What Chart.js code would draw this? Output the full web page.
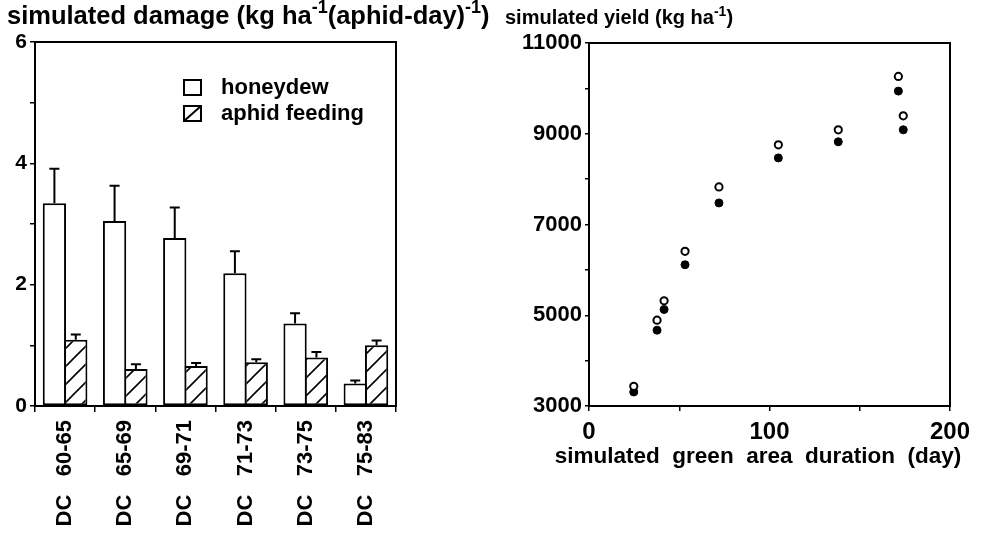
<!DOCTYPE html>
<html>
<head>
<meta charset="utf-8">
<script src="https://cdn.jsdelivr.net/npm/chart.js@4/dist/chart.umd.min.js"></script>
<style>
  html, body { margin: 0; padding: 0; background: #fff; }
  #wrap { position: relative; width: 985px; height: 533px; overflow: hidden; }
  canvas { position: absolute; top: 0; }
  #damage { left: 0; }
  #yield { left: 480px; }
</style>
</head>
<body>
<div id="wrap">
  <canvas id="damage" width="500" height="533"></canvas>
  <canvas id="yield" width="505" height="533"></canvas>
</div>
<script>
// left panel: simulated damage per development stage
const categories = ['DC 60-65', 'DC 65-69', 'DC 69-71', 'DC 71-73', 'DC 73-75', 'DC 75-83'];
const honeydew = [3.34, 3.05, 2.77, 2.19, 1.36, 0.37];
const honeydewErr = [0.57, 0.58, 0.50, 0.36, 0.17, 0.05];
const feeding = [1.09, 0.61, 0.66, 0.72, 0.80, 1.00];
const feedingErr = [0.09, 0.08, 0.05, 0.05, 0.09, 0.08];

// right panel: simulated yield vs green area duration
const gadDays = [24.8, 37.7, 41.6, 53.2, 72.0, 104.9, 138.1, 171.4, 174.1];
const yieldOpen = [3434, 4891, 5318, 6408, 7828, 8755, 9087, 10264, 9396];
const yieldFilled = [3309, 4671, 5127, 6113, 7475, 8468, 8822, 9940, 9087];

const FONT = "'Liberation Sans', Arial, Helvetica, sans-serif";
Chart.defaults.font.family = FONT;
Chart.defaults.font.weight = 'bold';
Chart.defaults.font.size = 21;
Chart.defaults.color = '#000';

// diagonal hatch for the aphid feeding bars
function makeHatch() {
    const s = 18;
    const c = document.createElement('canvas');
    c.width = s; c.height = s;
    const g = c.getContext('2d');
    g.fillStyle = '#fff';
    g.fillRect(0, 0, s, s);
    g.strokeStyle = '#000';
    g.lineWidth = 1.6;
    g.beginPath();
    g.moveTo(0, s); g.lineTo(s, 0);
    g.moveTo(-2, 2); g.lineTo(2, -2);
    g.moveTo(s - 2, s + 2); g.lineTo(s + 2, s - 2);
    g.stroke();
    return g.createPattern(c, 'repeat');
}
const hatch = makeHatch();

// text with superscripts, drawn on the canvas
function drawRich(ctx, x, y, parts, size, align) {
    ctx.save();
    ctx.fillStyle = '#000';
    ctx.textBaseline = 'alphabetic';
    ctx.textAlign = 'left';
    const fontFor = p => 'bold ' + (p.sup ? Math.round(size * 0.72) : size) + 'px ' + FONT;
    let total = 0;
    parts.forEach(p => {
        ctx.font = fontFor(p);
        total += ctx.measureText(p.t).width;
    });
    let cx = align === 'center' ? x - total / 2 : x;
    parts.forEach(p => {
        ctx.font = fontFor(p);
        ctx.fillText(p.t, cx, p.sup ? y - size * 0.42 : y);
        cx += ctx.measureText(p.t).width;
    });
    ctx.restore();
}

const textPlugin = {
    id: 'richText',
    afterDraw(chart, args, opts) {
        (opts.items || []).forEach(it => {
            drawRich(chart.ctx, it.x, it.y, it.parts, it.size || 21, it.align);
        });
    }
};

const boxPlugin = {
    id: 'frameBox',
    afterDatasetsDraw(chart) {
        const a = chart.chartArea;
        const ctx = chart.ctx;
        ctx.save();
        ctx.strokeStyle = '#000';
        ctx.lineWidth = 2;
        ctx.strokeRect(a.left, a.top, a.right - a.left, a.bottom - a.top);
        ctx.restore();
    }
};

const errorBarPlugin = {
    id: 'errorBars',
    afterDatasetsDraw(chart) {
        const ctx = chart.ctx;
        const yScale = chart.scales.y;
        ctx.save();
        ctx.strokeStyle = '#000';
        ctx.lineWidth = 2;
        chart.data.datasets.forEach((ds, i) => {
            const meta = chart.getDatasetMeta(i);
            meta.data.forEach((bar, j) => {
                const top = yScale.getPixelForValue(ds.data[j] + ds.errors[j]);
                ctx.beginPath();
                ctx.moveTo(bar.x, bar.y);
                ctx.lineTo(bar.x, top);
                ctx.moveTo(bar.x - 5, top);
                ctx.lineTo(bar.x + 5, top);
                ctx.stroke();
            });
        });
        ctx.restore();
    }
};

const legendPlugin = {
    id: 'boxLegend',
    afterDraw(chart, args, opts) {
        const ctx = chart.ctx;
        ctx.save();
        chart.data.datasets.forEach((ds, i) => {
            const bx = opts.x, by = opts.y + i * opts.gap;
            ctx.fillStyle = '#fff';
            ctx.fillRect(bx, by, 17, 15);
            ctx.strokeStyle = '#000';
            ctx.lineWidth = 2;
            ctx.strokeRect(bx, by, 17, 15);
            if (ds.hatched) {
                ctx.beginPath();
                ctx.moveTo(bx, by + 15);
                ctx.lineTo(bx + 17, by);
                ctx.stroke();
            }
            ctx.fillStyle = '#000';
            ctx.font = 'bold 22px ' + FONT;
            ctx.textBaseline = 'middle';
            ctx.fillText(ds.label, bx + 37, by + 8);
        });
        ctx.restore();
    }
};

new Chart(document.getElementById('damage'), {
    type: 'bar',
    data: {
        labels: categories,
        datasets: [
            {
                label: 'honeydew',
                data: honeydew,
                errors: honeydewErr,
                backgroundColor: '#fff',
                borderColor: '#000',
                borderWidth: 2,
                borderSkipped: false,
                categoryPercentage: 0.71,
                barPercentage: 1.09
            },
            {
                label: 'aphid feeding',
                data: feeding,
                errors: feedingErr,
                hatched: true,
                backgroundColor: hatch,
                borderColor: '#000',
                borderWidth: 2,
                borderSkipped: false,
                categoryPercentage: 0.71,
                barPercentage: 1.09
            }
        ]
    },
    options: {
        responsive: false,
        animation: false,
        layout: { padding: { left: 0, right: 104, top: 42, bottom: 0 } },
        scales: {
            x: {
                afterFit(scale) { scale.height = 127; },
                grid: { drawOnChartArea: false, tickLength: 6, color: '#000', lineWidth: 1.5, offset: true },
                border: { display: false },
                ticks: {
                    minRotation: 90,
                    maxRotation: 90,
                    padding: 8,
                    autoSkip: false,
                    font: { size: 22 },
                    callback: function(v) {
                        return this.getLabelForValue(v).replace(' ', '\u00a0\u00a0\u00a0');
                    }
                }
            },
            y: {
                min: 0,
                max: 6,
                afterFit(scale) { scale.width = 35; },
                grid: { drawOnChartArea: false, tickLength: 5, color: '#000', lineWidth: 1.5 },
                border: { display: false },
                ticks: {
                    stepSize: 1,
                    padding: 3,
                    callback: v => (v % 2 === 0 ? v : '')
                }
            }
        },
        plugins: {
            legend: { display: false },
            tooltip: { enabled: false },
            boxLegend: { x: 184, y: 80, gap: 26 },
            richText: {
                items: [{
                    x: 7, y: 24, size: 25.5,
                    parts: [
                        { t: 'simulated damage (kg ha' },
                        { t: '-1', sup: true },
                        { t: '(aphid-day)' },
                        { t: '-1', sup: true },
                        { t: ')' }
                    ]
                }]
            }
        }
    },
    plugins: [boxPlugin, errorBarPlugin, legendPlugin, textPlugin]
});

new Chart(document.getElementById('yield'), {
    type: 'scatter',
    data: {
        datasets: [
            {
                label: 'open',
                data: gadDays.map((d, i) => ({ x: d, y: yieldOpen[i] })),
                pointRadius: 3.6,
                pointBackgroundColor: '#fff',
                pointBorderColor: '#000',
                pointBorderWidth: 2
            },
            {
                label: 'filled',
                data: gadDays.map((d, i) => ({ x: d, y: yieldFilled[i] })),
                pointRadius: 4,
                pointBackgroundColor: '#000',
                pointBorderColor: '#000',
                pointBorderWidth: 1
            }
        ]
    },
    options: {
        responsive: false,
        animation: false,
        layout: { padding: { left: 0, right: 35, top: 43, bottom: 0 } },
        scales: {
            x: {
                type: 'linear',
                min: 0,
                max: 200,
                afterFit(scale) { scale.height = 127; },
                grid: { drawOnChartArea: false, tickLength: 5, color: '#000', lineWidth: 1.5 },
                border: { display: false },
                ticks: {
                    stepSize: 50,
                    padding: 7,
                    font: { size: 24 },
                    callback: v => (v % 100 === 0 ? v : '')
                }
            },
            y: {
                min: 3000,
                max: 11000,
                afterFit(scale) { scale.width = 109; },
                grid: { drawOnChartArea: false, tickLength: 4, color: '#000', lineWidth: 1.5 },
                border: { display: false },
                ticks: {
                    stepSize: 1000,
                    padding: 3,
                    font: { size: 22 },
                    callback: v => ((v - 3000) % 2000 === 0 ? String(v) : '')
                }
            }
        },
        plugins: {
            legend: { display: false },
            tooltip: { enabled: false },
            richText: {
                items: [
                    {
                        x: 25, y: 24, size: 20,
                        parts: [
                            { t: 'simulated yield (kg ha' },
                            { t: '-1', sup: true },
                            { t: ')' }
                        ]
                    },
                    {
                        x: 278, y: 463, align: 'center', size: 22.5,
                        parts: [{ t: 'simulated  green  area  duration  (day)' }]
                    }
                ]
            }
        }
    },
    plugins: [boxPlugin, textPlugin]
});
</script>
</body>
</html>
